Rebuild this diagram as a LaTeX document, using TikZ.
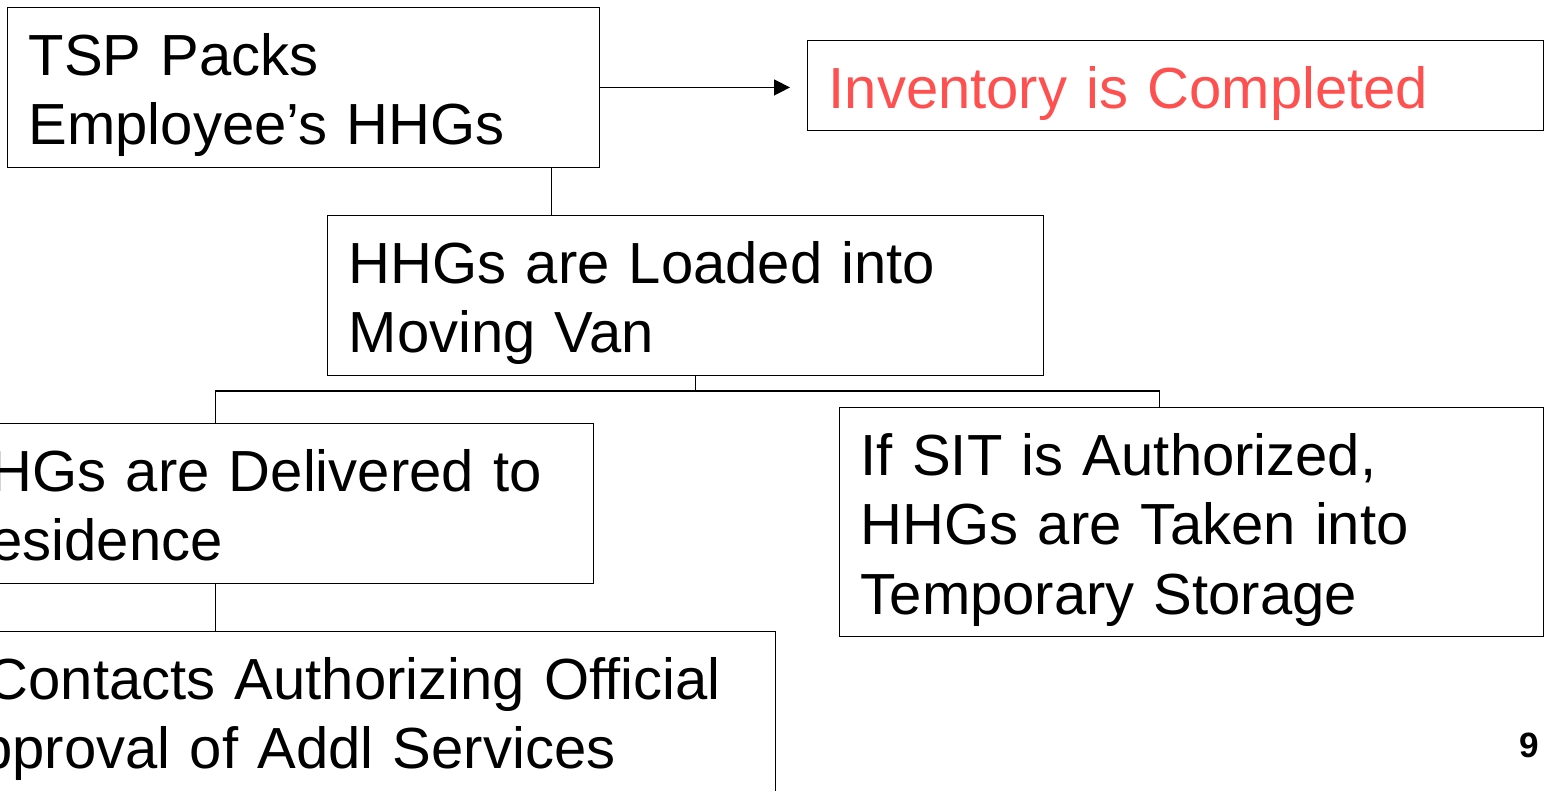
\documentclass[tikz,border=0pt]{standalone}
\usepackage{fontspec}
\setmainfont{Liberation Sans}
\usetikzlibrary{arrows.meta}
\definecolor{rouge}{RGB}{255,80,80}
\begin{document}
\begin{tikzpicture}
\tikzset{boite/.style={draw, line width=0.8pt, anchor=north west, align=left, inner xsep=0.42cm, inner ysep=0pt, text height=1.36cm, font=\fontsize{33}{39.4}\selectfont}}
\useasboundingbox (0, 0) rectangle (30.88, -15.82);
\clip (0, 0) rectangle (30.88, -15.82);
\node[boite, text width=11.00cm, text depth=1.83cm] (TSP) at (0.14, -0.14) {TSP Packs\\Employee’s HHGs};
\node[boite, text width=13.88cm, text depth=0.44cm, text=rouge] (INV) at (16.14, -0.80) {Inventory is Completed};
\node[boite, text width=13.48cm, text depth=1.83cm] (LOAD) at (6.54, -4.30) {HHGs are Loaded into\\Moving Van};
\node[boite, text width=12.48cm, text depth=1.83cm] (DEL) at (-1.46, -8.46) {HHGs are Delivered to\\Residence};
\node[boite, text width=13.24cm, text depth=3.22cm] (SIT) at (16.78, -8.14) {If SIT is Authorized,\\HHGs are Taken into\\Temporary Storage};
\node[boite, text width=18.00cm, text depth=1.95cm] (CONT) at (-3.34, -12.62) {TSP Contacts Authorizing Official\\for Approval of Addl Services};
\node[anchor=base east, inner sep=0pt, font=\fontsize{20}{24}\selectfont\bfseries] (PAGE) at (30.78, -15.14) {9};
\coordinate (BUS) at ([xshift=0.2cm, yshift=-0.3cm]LOAD.south);
\draw[line width=0.8pt, -{Triangle[length=0.32cm, width=0.32cm]}, shorten >=0.34cm] (TSP.east) -- (TSP.east -| INV.west);
\draw[line width=0.8pt] ([xshift=4.96cm]TSP.south) -- ([xshift=4.96cm]TSP.south |- LOAD.north);
\draw[line width=0.8pt] ([xshift=0.2cm]LOAD.south) -- (BUS);
\draw[line width=0.8pt] ([xshift=-0.9cm]DEL.north) |- (BUS) -| ([xshift=-0.64cm]SIT.north);
\draw[line width=0.8pt] ([xshift=-0.9cm]DEL.south) -- ([xshift=-0.9cm]DEL.south |- CONT.north);
\end{tikzpicture}
\end{document}
